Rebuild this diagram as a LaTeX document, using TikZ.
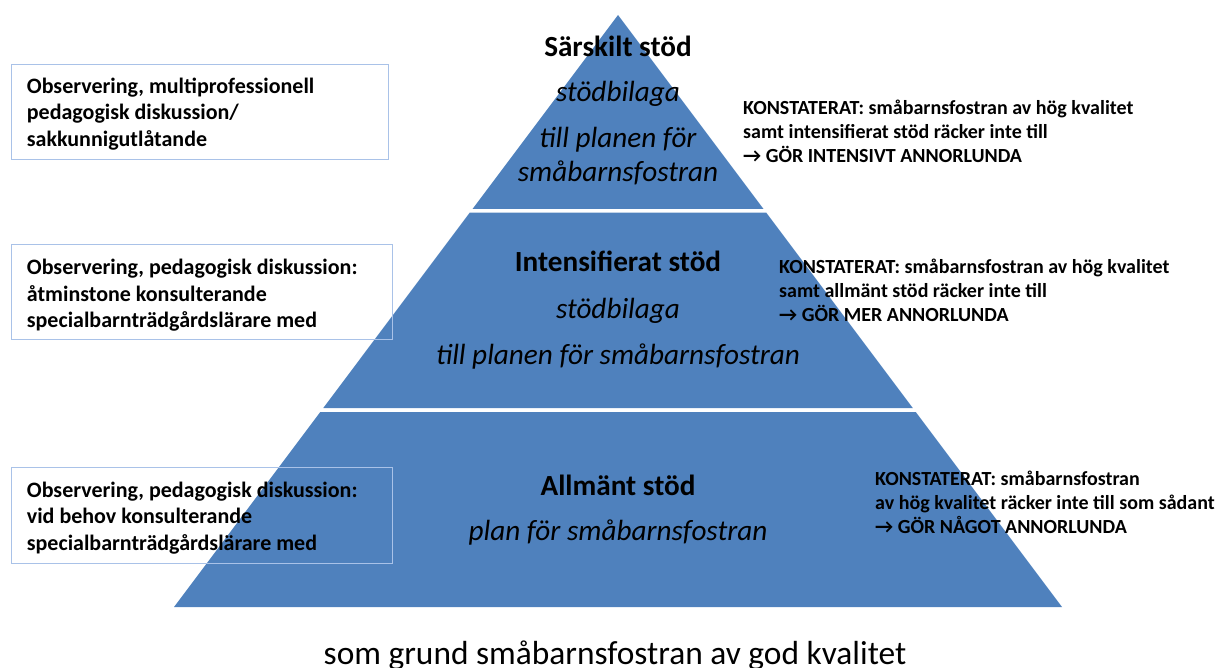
\documentclass[tikz,border=0pt]{standalone}
\usepackage{fontspec}
\setmainfont{Carlito}
\definecolor{pyrblue}{HTML}{4F81BD}
\definecolor{boxline}{HTML}{A9C2E8}
\begin{document}
\begin{tikzpicture}[x=1pt,y=-1pt,
  tier/.style={fill=pyrblue},
  head/.style={anchor=base, inner sep=0, font=\fontsize{29.2}{35}\selectfont\bfseries},
  sub/.style={anchor=base, inner sep=0, font=\fontsize{29.2}{35}\selectfont\itshape},
  obsbox/.style={draw=boxline, line width=1.3pt, anchor=north west, inner sep=0},
  lefttext/.style={anchor=base west, inner sep=0, font=\fontsize{22}{26.5}\selectfont\bfseries},
  righttext/.style={anchor=base west, inner sep=0, font=\fontsize{20}{24.3}\selectfont\bfseries},
  basetext/.style={anchor=base, inner sep=0, font=\fontsize{33.4}{40}\selectfont}
]
\useasboundingbox (0,0) rectangle (1228,668);
% pyramid tiers
\fill[tier] (618,15) -- (763.5,209) -- (472.5,209) -- cycle;
\fill[tier] (469.7,212.7) -- (766.3,212.7) -- (912.75,408) -- (323.25,408) -- cycle;
\fill[tier] (320.25,412) -- (915.75,412) -- (1062,607) -- (174,607) -- cycle;
% left boxes
\node[obsbox, minimum width=377pt, minimum height=95pt] (b1) at (11,64) {};
\node[obsbox, minimum width=381pt, minimum height=95pt] (b2) at (11,244) {};
\node[obsbox, minimum width=381pt, minimum height=96pt] (b3) at (11,467) {};
% left texts
\node[lefttext] (l1) at (26.7,93.3) {\vtop{\hbox{Observering, multiprofessionell}\hbox{pedagogisk diskussion/}\hbox{sakkunnigutlåtande}}};
\node[lefttext] (l2) at (26.7,275) {\vtop{\hbox{Observering, pedagogisk diskussion:}\hbox{åtminstone konsulterande}\hbox{specialbarnträdgårdslärare med}}};
\node[lefttext] (l3) at (26.7,497) {\vtop{\hbox{Observering, pedagogisk diskussion:}\hbox{vid behov konsulterande}\hbox{specialbarnträdgårdslärare med}}};
% pyramid texts
\node[head] (h1) at (618,56.7) {Särskilt stöd};
\node[sub] (s1a) at (618,101.7) {stödbilaga};
\node[sub] (s1b) at (618,148) {till planen för};
\node[sub] (s1c) at (618,181.7) {småbarnsfostran};
\node[head] (h2) at (618,271.7) {Intensifierat stöd};
\node[sub] (s2a) at (618,318.3) {stödbilaga};
\node[sub] (s2b) at (618,364) {till planen för småbarnsfostran};
\node[head] (h3) at (618,495) {Allmänt stöd};
\node[sub] (s3a) at (618,540) {plan för småbarnsfostran};
% right texts
\node[righttext] (r1) at (743,114.3) {\vtop{\hbox{KONSTATERAT: småbarnsfostran av hög kvalitet}\hbox{samt intensifierat stöd räcker inte till}\hbox{→ GÖR INTENSIVT ANNORLUNDA}}};
\node[righttext] (r2) at (779,273) {\vtop{\hbox{KONSTATERAT: småbarnsfostran av hög kvalitet}\hbox{samt allmänt stöd räcker inte till}\hbox{→ GÖR MER ANNORLUNDA}}};
\node[righttext] (r3) at (875,485) {\vtop{\hbox{KONSTATERAT: småbarnsfostran}\hbox{av hög kvalitet räcker inte till som sådant}\hbox{→ GÖR NÅGOT ANNORLUNDA}}};
% base text
\node[basetext] (bt) at (615,664) {som grund småbarnsfostran av god kvalitet};
\end{tikzpicture}
\end{document}
